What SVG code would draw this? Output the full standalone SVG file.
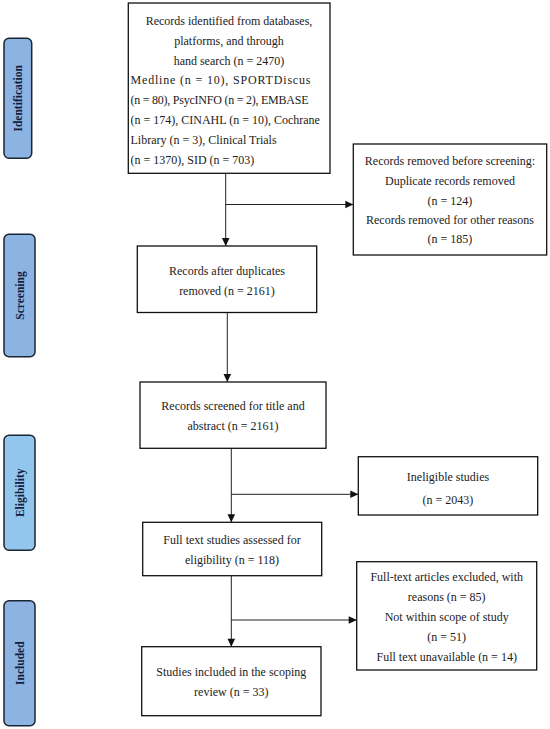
<svg xmlns="http://www.w3.org/2000/svg" width="550" height="729" viewBox="0 0 550 729">
<style>
.box{fill:#fff;stroke:#111;stroke-width:1.3}
.t{font-family:"Liberation Serif","Times New Roman",serif;font-size:12px;fill:#222}
.c{text-anchor:middle}
.lab{stroke:#1b2533;stroke-width:1.5}
.mid{fill:#8db3e2}
.light{fill:#93c6ec}
.lt{font-family:"Liberation Serif","Times New Roman",serif;font-size:11.5px;font-weight:bold;fill:#14213d;text-anchor:middle}
.ln{fill:none;stroke:#222;stroke-width:1}
</style>
<defs>
<marker id="ah" markerUnits="userSpaceOnUse" markerWidth="10" markerHeight="10" viewBox="0 0 10 10" refX="9" refY="5" orient="auto">
<path d="M1,1.2 L9,5 L1,8.8 Z" fill="#111"/>
</marker>
</defs>

<g id="phase-identification">
<rect class="lab mid" x="4" y="38.3" width="27.7" height="120" rx="5"/>
<text class="lt" transform="translate(21.5,98.3) rotate(-90)">Identification</text>
</g>
<g id="phase-screening">
<rect class="lab mid" x="4" y="234.3" width="31" height="122.4" rx="5"/>
<text class="lt" transform="translate(23.5,295.5) rotate(-90)">Screening</text>
</g>
<g id="phase-eligibility">
<rect class="lab light" x="4" y="435.3" width="31" height="115" rx="5"/>
<text class="lt" transform="translate(23.5,492.8) rotate(-90)">Eligibility</text>
</g>
<g id="phase-included">
<rect class="lab mid" x="4" y="600.7" width="31" height="125" rx="5"/>
<text class="lt" transform="translate(23.5,663.2) rotate(-90)">Included</text>
</g>

<g id="connectors">
<line class="ln" x1="225.7" y1="173.3" x2="225.7" y2="246" marker-end="url(#ah)"/>
<line class="ln" x1="225.7" y1="204.5" x2="353.3" y2="204.5" marker-end="url(#ah)"/>
<line class="ln" x1="227.3" y1="312.5" x2="227.3" y2="382" marker-end="url(#ah)"/>
<line class="ln" x1="231.3" y1="448.3" x2="231.3" y2="522.3" marker-end="url(#ah)"/>
<line class="ln" x1="231.3" y1="494.3" x2="358.3" y2="494.3" marker-end="url(#ah)"/>
<line class="ln" x1="231.3" y1="575.7" x2="231.3" y2="646.7" marker-end="url(#ah)"/>
<line class="ln" x1="231.3" y1="620" x2="356.7" y2="620" marker-end="url(#ah)"/>
</g>

<g id="identified">
<rect class="box" x="128.3" y="3" width="201.7" height="170.3"/>
<text class="t c" x="229" y="25">Records identified from databases,</text>
<text class="t c" x="229" y="44.8">platforms, and through</text>
<text class="t c" x="229" y="64.6">hand search (n = 2470)</text>
<text class="t" x="130.5" y="84.4" textLength="180" lengthAdjust="spacing">Medline (n = 10), SPORTDiscus</text>
<text class="t" x="130.5" y="104.2" textLength="178" lengthAdjust="spacing">(n = 80), PsycINFO (n = 2), EMBASE</text>
<text class="t" x="130.5" y="124">(n = 174), CINAHL (n = 10), Cochrane</text>
<text class="t" x="130.5" y="143.8">Library (n = 3), Clinical Trials</text>
<text class="t" x="130.5" y="163.6">(n = 1370), SID (n = 703)</text>
</g>

<g id="removed">
<rect class="box" x="353.3" y="144" width="193.4" height="111"/>
<text class="t c" x="450" y="165">Records removed before screening:</text>
<text class="t c" x="450" y="185">Duplicate records removed</text>
<text class="t c" x="450" y="204.7">(n = 124)</text>
<text class="t c" x="450" y="224">Records removed for other reasons</text>
<text class="t c" x="450" y="243.3">(n = 185)</text>
</g>

<g id="after-duplicates">
<rect class="box" x="137.3" y="246" width="179.4" height="66.5"/>
<text class="t c" x="227" y="274.7">Records after duplicates</text>
<text class="t c" x="227" y="294.7">removed (n = 2161)</text>
</g>

<g id="screened">
<rect class="box" x="140" y="382" width="186" height="66.3"/>
<text class="t c" x="233" y="409.7">Records screened for title and</text>
<text class="t c" x="233" y="429.7">abstract (n = 2161)</text>
</g>

<g id="ineligible">
<rect class="box" x="358.3" y="456.7" width="179.4" height="58.3"/>
<text class="t c" x="448" y="480.7">Ineligible studies</text>
<text class="t c" x="448" y="504">(n = 2043)</text>
</g>

<g id="full-text">
<rect class="box" x="142.7" y="522.3" width="179" height="53.4"/>
<text class="t c" x="232" y="544">Full text studies assessed for</text>
<text class="t c" x="232" y="564">eligibility (n = 118)</text>
</g>

<g id="excluded">
<rect class="box" x="356.7" y="561.7" width="180" height="108.3"/>
<text class="t c" x="446.7" y="580.7">Full-text articles excluded, with</text>
<text class="t c" x="446.7" y="600.7">reasons (n = 85)</text>
<text class="t c" x="446.7" y="620.7">Not within scope of study</text>
<text class="t c" x="446.7" y="640.7">(n = 51)</text>
<text class="t c" x="446.7" y="661.3">Full text unavailable (n = 14)</text>
</g>

<g id="included">
<rect class="box" x="141.7" y="646.7" width="179.3" height="69"/>
<text class="t c" x="231.3" y="676.3">Studies included in the scoping</text>
<text class="t c" x="231.3" y="696.3">review (n = 33)</text>
</g>
</svg>
